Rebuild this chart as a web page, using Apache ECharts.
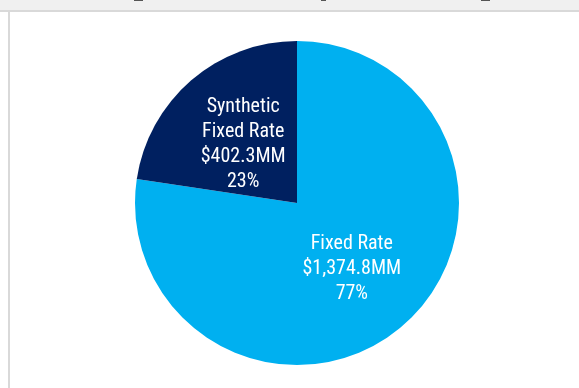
<!DOCTYPE html>
<html><head><meta charset="utf-8">
<script src="https://cdn.jsdelivr.net/npm/echarts@6/dist/echarts.min.js"></script>
<style>html,body{margin:0;padding:0;background:#fff}#c{width:579px;height:388px}</style>
</head><body><div id="c"></div>
<script>
const categories = ['Fixed Rate', 'Synthetic\nFixed Rate'];
const amounts = [1374.8, 402.3];
const amountLabels = ['$1,374.8MM', '$402.3MM'];
const percentLabels = ['77%', '23%'];
const colors = ['#00B0F0', '#002060'];

const chart = echarts.init(document.getElementById('c'));
chart.setOption({
  animation: false,
  backgroundColor: '#fff',
  graphic: [
    {type:'rect', shape:{x:0,y:0,width:579,height:10}, style:{fill:'#f0f0f0'}},
    {type:'rect', shape:{x:0,y:10,width:579,height:2}, style:{fill:'#d9d9d9'}},
    {type:'rect', shape:{x:8,y:10,width:2,height:378}, style:{fill:'#d9d9d9'}},
    {type:'rect', shape:{x:134,y:0,width:9,height:1}, style:{fill:'#555'}},
    {type:'rect', shape:{x:321,y:0,width:5,height:1}, style:{fill:'#555'}},
    {type:'rect', shape:{x:481,y:0,width:9,height:1}, style:{fill:'#555'}}
  ],
  series: [{
    type: 'pie',
    center: [297, 203],
    radius: [0, 162],
    startAngle: 90,
    clockwise: true,
    label: {
      show: true,
      position: 'inside',
      color: '#fff',
      fontFamily: '"Roboto Condensed", "Liberation Sans Narrow", sans-serif',
      fontSize: 20,
      lineHeight: 25,
      align: 'center',
      formatter: p => categories[p.dataIndex] + '\n' + amountLabels[p.dataIndex] + '\n' + percentLabels[p.dataIndex]
    },
    labelLayout: p => p.dataIndex === 0 ? {dx: 0, dy: 2} : {dx: 1, dy: 5},
    labelLine: {show: false},
    emphasis: {disabled: true},
    data: categories.map((c, i) => ({name: c, value: amounts[i], itemStyle: {color: colors[i], borderWidth: 0}}))
  }]
});
</script></body></html>
